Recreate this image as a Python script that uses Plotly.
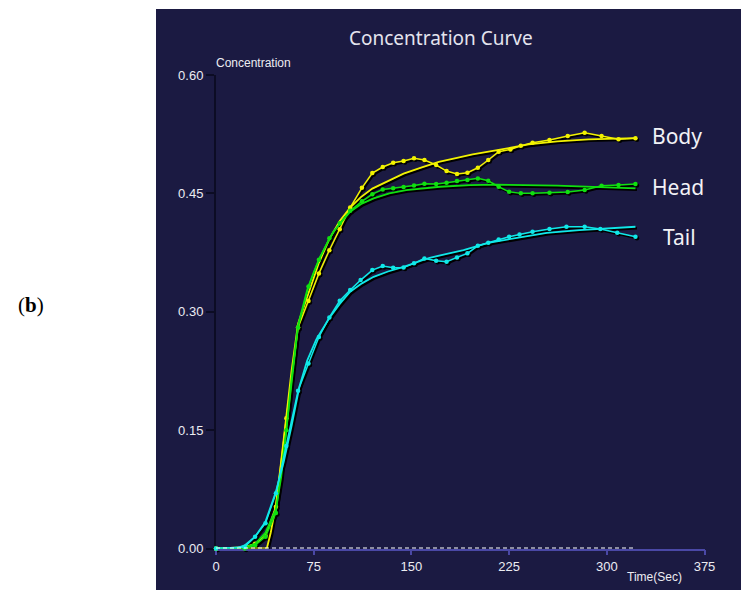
import plotly.graph_objects as go

# ---------------- data ----------------
body_t = [0, 22, 30, 38, 46, 54, 63, 71, 79, 87, 95, 103, 112, 120, 128, 136, 144, 152, 160,
          169, 177, 185, 193, 201, 209, 217, 226, 234, 243, 256, 270, 283, 296, 309, 322]
body_c = [0, 0.002, 0.006, 0.016, 0.053, 0.165, 0.28, 0.3135, 0.3486, 0.378, 0.4044, 0.432,
          0.457, 0.4758, 0.4834, 0.4888, 0.491, 0.4944, 0.4923, 0.4859, 0.4783, 0.4745, 0.4762,
          0.4825, 0.4923, 0.5028, 0.5057, 0.5104, 0.5142, 0.5176, 0.5227, 0.5269, 0.5227, 0.5185, 0.5198]
body_fit_t = [0, 22, 39, 42, 46, 50, 54, 58, 63, 67, 71, 75, 79, 87, 95, 103, 111, 120, 132, 144,
              158, 171, 185, 197, 217, 240, 262, 286, 322]
body_fit_c = [0, 0, 0, 0.02, 0.055, 0.11, 0.165, 0.225, 0.285, 0.305, 0.325, 0.345, 0.362, 0.392,
              0.415, 0.432, 0.445, 0.456, 0.466, 0.475, 0.483, 0.49, 0.495, 0.4995, 0.505, 0.512,
              0.516, 0.5185, 0.52]

head_t = [0, 22, 30, 38, 46, 54, 63, 71, 79, 87, 95, 103, 112, 120, 128, 136, 144, 152, 160,
          169, 177, 185, 193, 201, 209, 217, 225, 234, 243, 256, 270, 283, 296, 309, 322]
head_c = [0, 0, 0.004, 0.015, 0.045, 0.15, 0.28, 0.332, 0.366, 0.393, 0.412, 0.428, 0.44, 0.449,
          0.455, 0.4564, 0.458, 0.46, 0.4622, 0.4618, 0.4635, 0.4656, 0.4669, 0.469, 0.466, 0.4584,
          0.452, 0.45, 0.45, 0.4508, 0.4517, 0.4542, 0.4597, 0.4606, 0.4618]
head_fit_t = [0, 20, 30, 38, 46, 50, 54, 58, 63, 70, 75, 80, 90, 103, 112, 121, 133, 146, 172,
              195, 215, 262, 322]
head_fit_c = [0, 0, 0.006, 0.02, 0.05, 0.09, 0.15, 0.215, 0.283, 0.3275, 0.35, 0.3697, 0.4014,
              0.4267, 0.437, 0.4437, 0.45, 0.4542, 0.4584, 0.4605, 0.461, 0.4597, 0.4564]

tail_t = [0, 22, 30, 38, 46, 54, 63, 71, 79, 87, 95, 103, 111, 120, 128, 136, 144, 152, 160,
          169, 177, 185, 193, 201, 209, 217, 225, 233, 243, 256, 269, 283, 295, 308, 322]
tail_c = [0, 0.002, 0.015, 0.032, 0.07, 0.13, 0.2, 0.2345, 0.268, 0.2928, 0.3139, 0.3275, 0.3401,
          0.3528, 0.3579, 0.3557, 0.3562, 0.3613, 0.3676, 0.3646, 0.3634, 0.3689, 0.374, 0.3836,
          0.3874, 0.3917, 0.395, 0.398, 0.4014, 0.4048, 0.4077, 0.4077, 0.4048, 0.4001, 0.395]
tail_fit_t = [0, 15, 22, 30, 38, 46, 52, 58, 64, 70, 77, 87, 95, 103, 112, 121, 132, 144, 164,
              190, 209, 228, 254, 279, 300, 322]
tail_fit_c = [0, 0, 0.004, 0.015, 0.034, 0.072, 0.11, 0.155, 0.205, 0.238, 0.265, 0.292, 0.31,
              0.3253, 0.336, 0.3443, 0.351, 0.357, 0.3684, 0.3782, 0.3874, 0.393, 0.4, 0.4035,
              0.406, 0.4077]

baseline_t = [0, 322]
baseline_c = [0, 0]

x_ticks = [0, 75, 150, 225, 300, 375]
y_ticks = [0.0, 0.15, 0.30, 0.45, 0.60]

series = [
    ("Body", "#f2f200", body_t, body_c, body_fit_t, body_fit_c),
    ("Head", "#10e010", head_t, head_c, head_fit_t, head_fit_c),
    ("Tail", "#10e8e8", tail_t, tail_c, tail_fit_t, tail_fit_c),
]

# ---------------- figure ----------------
PAGE_OFF = 8            # default body margin of the html page
W, H = 749 - PAGE_OFF, 590 - PAGE_OFF
L, R, T, B = 216 - PAGE_OFF, 43, 75 - PAGE_OFF, 40
PW, PH = W - L - R, H - T - B
off = 1.5  # shadow offset in px

fig = go.Figure()

# shadow traces (subplot x/y, drawn first)
for name, col, t, c, ft, fc in series:
    fig.add_trace(go.Scatter(x=ft, y=fc, mode="lines", line=dict(color="#000000", width=2.4),
                             xaxis="x", yaxis="y", cliponaxis=False, hoverinfo="skip", showlegend=False))
    fig.add_trace(go.Scatter(x=t, y=c, mode="lines+markers", line=dict(color="#000000", width=2),
                             marker=dict(size=4.5, color="#000000"),
                             xaxis="x", yaxis="y", cliponaxis=False, hoverinfo="skip", showlegend=False))

# main traces (subplot x2/y2)
for name, col, t, c, ft, fc in series:
    fig.add_trace(go.Scatter(x=ft, y=fc, mode="lines", line=dict(color=col, width=1.8),
                             xaxis="x2", yaxis="y2", cliponaxis=False, name=name + " fit", showlegend=False))
    fig.add_trace(go.Scatter(x=t, y=c, mode="lines+markers", line=dict(color=col, width=1.5),
                             marker=dict(size=4.5, color=col),
                             xaxis="x2", yaxis="y2", cliponaxis=False, name=name, showlegend=False))

fig.add_trace(go.Scatter(x=baseline_t, y=baseline_c, mode="lines",
                         line=dict(color="#ffffff", width=2, dash="4px,3px"),
                         xaxis="x2", yaxis="y2", cliponaxis=False, hoverinfo="skip", showlegend=False))

ex = off / PW
ey = off / PH
axis_common = dict(showgrid=False, zeroline=False)
tick_font = dict(family="Liberation Sans, Arial", size=13, color="#ececf2")

fig.update_layout(
    width=W, height=H,
    margin=dict(l=L, r=R, t=T, b=B),
    paper_bgcolor="#ffffff",
    plot_bgcolor="rgba(0,0,0,0)",
    showlegend=False,
    xaxis=dict(domain=[ex, 1], range=[0, 375], anchor="y", visible=False, **axis_common),
    yaxis=dict(domain=[0, 1 - ey], range=[0, 0.6], anchor="x", visible=False, **axis_common),
    xaxis2=dict(domain=[0, 1 - ex], range=[0, 375], anchor="y2", tickvals=x_ticks,
                ticktext=[str(v) for v in x_ticks], ticks="outside", ticklen=5,
                tickcolor="#4a48a6", tickwidth=1.5, showline=True, linecolor="#4a48a6",
                linewidth=1.5, layer="below traces", tickfont=tick_font, **axis_common),
    yaxis2=dict(domain=[ey, 1], range=[0, 0.6], anchor="x2", tickvals=y_ticks,
                tickformat=".2f", ticks="outside", ticklen=8, tickcolor="#0c0c24", tickwidth=1.5,
                showline=True, linecolor="#0c0c24", linewidth=2, layer="below traces",
                tickfont=tick_font, **axis_common),
)

# helpers: page pixel -> paper fraction
def px_x(p):
    return (p - PAGE_OFF - L) / PW

def px_y(p):
    return (H - B - (p - PAGE_OFF)) / PH

# dark panel
fig.add_shape(type="rect", xref="paper", yref="paper",
              x0=px_x(156), x1=px_x(770), y0=px_y(610), y1=px_y(9),
              fillcolor="#1b1a42", line=dict(width=0), layer="below")

ann = []
ann.append(dict(text="Concentration Curve", x=px_x(441), y=px_y(38), xref="paper", yref="paper",
                showarrow=False, xanchor="center", yanchor="middle",
                font=dict(family="Noto Sans, Open Sans", size=19, color="#e4e4ee")))
ann.append(dict(text="Concentration", x=px_x(214), y=px_y(63), xref="paper", yref="paper",
                showarrow=False, xanchor="left", yanchor="middle",
                font=dict(family="Liberation Sans, Arial", size=12, color="#ececf2")))
ann.append(dict(text="Time(Sec)", x=px_x(625), y=px_y(577), xref="paper", yref="paper",
                showarrow=False, xanchor="left", yanchor="middle",
                font=dict(family="Liberation Sans, Arial", size=12, color="#ececf2")))
for txt, xp, yp in [("Body", 650, 136), ("Head", 650, 187), ("Tail", 661, 237)]:
    ann.append(dict(text=txt, x=px_x(xp), y=px_y(yp), xref="paper", yref="paper",
                    showarrow=False, xanchor="left", yanchor="middle",
                    font=dict(family="Noto Sans, Open Sans", size=21, color="#f2f2f6")))
ann.append(dict(text="(<b>b</b>)", x=px_x(31), y=px_y(305), xref="paper", yref="paper",
                showarrow=False, xanchor="center", yanchor="middle",
                font=dict(family="Liberation Serif, DejaVu Serif", size=21, color="#000000")))
fig.update_layout(annotations=ann)

fig.write_html("out.html")
